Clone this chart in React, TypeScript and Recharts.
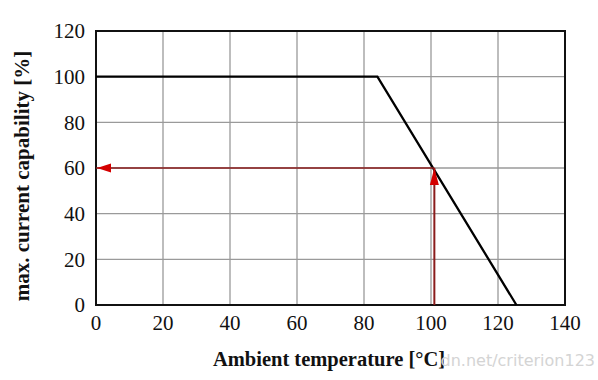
import React from 'react';
import {
  LineChart, Line, XAxis, YAxis, CartesianGrid, ReferenceArea, ReferenceDot,
} from 'recharts';

const xTicks = [0, 20, 40, 60, 80, 100, 120, 140];
const yTicks = [0, 20, 40, 60, 80, 100, 120];

const deratingTemp = [0, 84, 125.5];
const deratingCap = [100, 100, 0];

const opTemp = 101;
const opCap = 60;

const deratingData = deratingTemp.map((t, i) => ({ t, v: deratingCap[i] }));
const verticalArrow = [{ t: opTemp, v: 0 }, { t: opTemp, v: opCap }];
const horizontalArrow = [{ t: opTemp, v: opCap }, { t: 0, v: opCap }];

const FONT = '"Liberation Serif", "Times New Roman", serif';

const UpHead = (p: any) => {
  const { cx, cy } = p;
  return <polygon points={`${cx},${cy} ${cx - 4.5},${cy + 17} ${cx + 4.5},${cy + 17}`} fill="#d40000" />;
};
const LeftHead = (p: any) => {
  const { cx, cy } = p;
  return <polygon points={`${cx + 1},${cy} ${cx + 15},${cy - 4.5} ${cx + 15},${cy + 4.5}`} fill="#d40000" />;
};

const SerifTick = (p: any) => {
  const { x, y, payload, textAnchor } = p;
  return (
    <text x={x} y={y} dy="0.355em" textAnchor={textAnchor} fontFamily={FONT} fontSize={21} fill="#111">
      {payload.value}
    </text>
  );
};

export default function App() {
  return (
    <div style={{ position: 'absolute', left: 0, top: 0, background: '#fff', fontFamily: FONT }}>
      <LineChart width={598} height={380} margin={{ top: 31, right: 33, left: 0, bottom: 0 }} style={{ fontFamily: FONT }}>
        <CartesianGrid stroke="#9a9a9a" strokeWidth={1.3} horizontalValues={yTicks} verticalValues={xTicks} />
        <XAxis
          type="number"
          dataKey="t"
          domain={[0, 140]}
          ticks={xTicks}
          height={75}
          axisLine={false}
          tickLine={false}
          tick={<SerifTick />}
          tickMargin={12}
          interval={0}
        />
        <YAxis
          type="number"
          domain={[0, 120]}
          ticks={yTicks}
          width={96}
          axisLine={false}
          tickLine={false}
          tick={<SerifTick />}
          tickMargin={5}
          interval={0}
        />
        <ReferenceArea x1={0} x2={140} y1={0} y2={120} fill="none" stroke="#111" strokeWidth={2} ifOverflow="visible" />
        <Line data={deratingData} dataKey="v" type="linear" stroke="#000" strokeWidth={2.3} dot={false} isAnimationActive={false} />
        <Line data={verticalArrow} dataKey="v" type="linear" stroke="#8b1c1c" strokeWidth={2} dot={false} isAnimationActive={false} />
        <Line data={horizontalArrow} dataKey="v" type="linear" stroke="#8b1c1c" strokeWidth={1.6} dot={false} isAnimationActive={false} />
        <ReferenceDot x={opTemp} y={opCap} shape={UpHead} ifOverflow="visible" />
        <ReferenceDot x={0} y={opCap} shape={LeftHead} ifOverflow="visible" />
        <text x={329} y={366} textAnchor="middle" fontFamily={FONT} fontWeight="bold" fontSize={20.5} fill="#111">
          Ambient temperature [°C]
        </text>
        <text
          x={0}
          y={0}
          transform="translate(29,176) rotate(-90)"
          textAnchor="middle"
          fontFamily={FONT}
          fontWeight="bold"
          fontSize={21}
          fill="#111"
        >
          max. current capability [%]
        </text>
        <text x={595} y={366} textAnchor="end" fontFamily="'DejaVu Sans', sans-serif" fontSize={16} fill="#d4d4d4">
          dn.net/criterion123
        </text>
      </LineChart>
    </div>
  );
}
